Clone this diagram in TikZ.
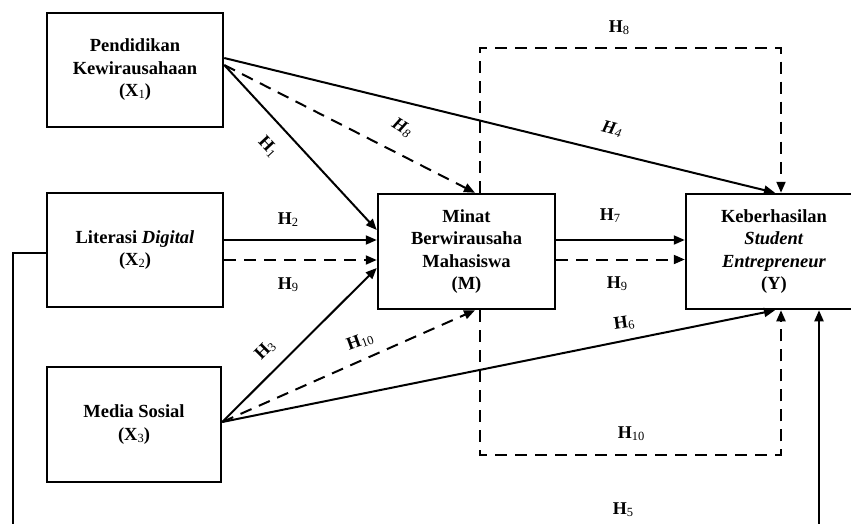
\documentclass[tikz,border=0pt]{standalone}
\usepackage{fontspec}
\setmainfont{Liberation Serif}
\usetikzlibrary{arrows.meta,calc}
\newcommand{\sbs}[1]{{\mdseries\fontsize{12.5}{12.5}\selectfont\raisebox{-2pt}{#1}}}
\newcommand{\hlab}[1]{\textbf{H}\sbs{#1}}
\begin{document}
\begin{tikzpicture}[x=1pt,y=-1pt,
 box/.style={draw,line width=2.5pt,rectangle,align=center,font=\fontsize{18.5}{22.5}\selectfont\bfseries,inner sep=0pt},
 link/.style={line width=2pt,-{Triangle[length=11pt,width=9pt]}},
 dlink/.style={link,dash pattern=on 12pt off 8pt},
 lab/.style={font=\fontsize{18}{18}\selectfont,inner sep=1pt}]
\useasboundingbox (0,0) rectangle (851,524);
\clip (0,0) rectangle (851,524);
\node[box,minimum width=176pt,minimum height=114pt] (x1) at (135,70) {Pendidikan\\Kewirausahaan\\(X\sbs{1})};
\node[box,minimum width=176pt,minimum height=114pt] (x2) at (135,250) {Literasi \textit{Digital}\\(X\sbs{2})};
\node[box,minimum width=174pt,minimum height=115pt] (x3) at (134,424.5) {Media Sosial\\(X\sbs{3})};
\node[box,minimum width=177pt,minimum height=115pt] (m) at (466.5,251.5) {Minat\\Berwirausaha\\Mahasiswa\\(M)};
\node[box,minimum width=176pt,minimum height=115pt] (y) at (774,251.5) {Keberhasilan\\\textit{Student}\\\textit{Entrepreneur}\\(Y)};
\coordinate (h5c) at (13,540);
% X1
\draw[link] ([yshift=12pt]x1.east) -- ([xshift=1pt]y.north);
\draw[link] ([yshift=5pt]x1.east) -- ([yshift=21.5pt]m.west);
\draw[dlink] ([yshift=5pt]x1.east) -- ([xshift=8.5pt]m.north);
% X2
\draw[link] ([yshift=10pt]x2.east) -- ([yshift=11.5pt]m.west);
\draw[dlink] ([yshift=-10pt]x2.east) -- ([yshift=-8.5pt]m.west);
% X3
\draw[link] ([yshift=2.5pt]x3.east) -- ([yshift=-16.5pt]m.west);
\draw[dlink] ([yshift=2.5pt]x3.east) -- ([xshift=8.5pt]m.south);
\draw[link] ([yshift=2.5pt]x3.east) -- ([xshift=1pt]y.south);
% M -> Y
\draw[link] ([yshift=11.5pt]m.east) -- ([yshift=11.5pt]y.west);
\draw[dlink] ([yshift=-8pt]m.east) -- ([yshift=-8pt]y.west);
% loops
\draw[dlink] ([xshift=13.5pt]m.north) -- ++(0,-145) -| ([xshift=7pt]y.north);
\draw[dlink] ([xshift=13.5pt]m.south) -- ++(0,145) -| ([xshift=7pt]y.south);
\draw[link] ([yshift=-3pt]x2.west) -| (h5c) -| ([xshift=45pt]y.south);
% labels
\node[lab] (l8t) at (619,28) {\hlab{8}};
\node[lab] (l10b) at (631,434) {\hlab{10}};
\node[lab] (l5) at (623,510) {\hlab{5}};
\node[lab,rotate=-47] (l1) at (268,147) {\hlab{1}};
\node[lab,rotate=-32] (l8) at (402,128) {\textit{\hlab{8}}};
\node[lab,rotate=-14] (l4) at (612,129) {\textit{\hlab{4}}};
\node[lab] (l2) at (288,220) {\hlab{2}};
\node[lab] (l9a) at (288,285) {\hlab{9}};
\node[lab,rotate=45] (l3) at (265,350) {\hlab{3}};
\node[lab,rotate=20] (l10) at (360,341) {\hlab{10}};
\node[lab] (l7) at (610,216) {\hlab{7}};
\node[lab] (l9b) at (617,284) {\hlab{9}};
\node[lab,rotate=8] (l6) at (624,323) {\hlab{6}};
\end{tikzpicture}
\end{document}
